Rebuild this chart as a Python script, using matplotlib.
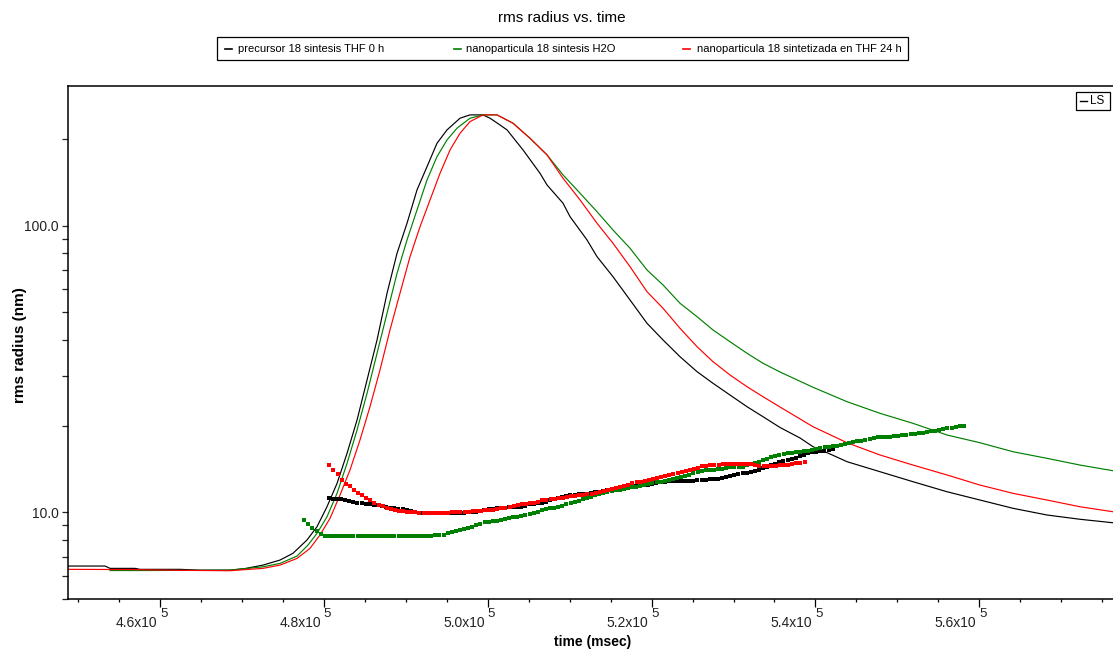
import numpy as np
import matplotlib
matplotlib.use("Agg")
import matplotlib.pyplot as plt
from matplotlib.ticker import FixedLocator, FixedFormatter, NullFormatter, MultipleLocator
from matplotlib.transforms import offset_copy
from matplotlib.patches import Rectangle
from matplotlib.lines import Line2D

plt.rcParams['font.family'] = ['Liberation Sans', 'DejaVu Sans']

# ---------------- data ----------------
series_names = ["precursor 18 sintesis THF 0 h",
                "nanoparticula 18 sintesis H2O",
                "nanoparticula 18 sintetizada en THF 24 h"]
series_colors = ["#000000", "#008000", "#ff0000"]

# LS trace (time in msec, rms radius in nm)
black_line_t = [448770, 453290, 453900, 456950, 457560, 462440, 464880, 468540, 470380, 472570,
                474650, 476230, 477940, 479160, 480380, 481610, 482830, 484050, 485270, 486490,
                487710, 488930, 490150, 491370, 492590, 493810, 495030, 496620, 497840, 499430,
                500280, 501130, 502360, 504310, 506380, 507240, 509190, 510050, 512120, 513340,
                515290, 517370, 519440, 521400, 523470, 525550, 527500, 529570, 531650, 533600,
                535680, 538120, 539710, 541780, 543860, 547880, 551910, 556060, 560090, 564120,
                568270, 572300, 576320]
black_line_r = [6.49, 6.49, 6.37, 6.37, 6.32, 6.32, 6.28, 6.28, 6.36, 6.54,
                6.81, 7.19, 8.00, 8.90, 10.45, 12.61, 16.06, 20.98, 28.94, 39.92,
                58.10, 80.12, 101.98, 133.3, 160.7, 194.0, 215.9, 237.2, 243.6, 243.6,
                237.2, 228.4, 215.9, 183.8, 152.4, 138.7, 119.8, 107.5, 89.17, 77.97,
                66.38, 55.05, 45.65, 39.92, 34.90, 30.94, 28.18, 25.65, 23.35, 21.55,
                19.76, 18.16, 16.93, 15.97, 15.01, 13.85, 12.78, 11.79, 11.03, 10.32,
                9.78, 9.45, 9.19]

green_line_t = [453900, 457560, 464880, 468540, 472570, 474650, 476720, 478060, 479160, 480380,
                481610, 482830, 484050, 485270, 486490, 487710, 488930, 490150, 491370, 492590,
                493810, 495030, 496250, 497840, 499430, 501130, 503090, 505160, 507240, 509190,
                511270, 513340, 515290, 517370, 519440, 521400, 523470, 525550, 527500, 529570,
                531650, 533600, 535680, 539710, 543860, 547880, 551910, 556060, 560090, 564120,
                568270, 572300, 576320]
green_line_r = [6.26, 6.26, 6.27, 6.28, 6.45, 6.63, 7.03, 7.68, 8.44, 9.64,
                11.64, 14.82, 19.36, 26.00, 35.87, 49.47, 68.23, 89.17, 113.5, 144.4,
                174.2, 199.2, 218.9, 237.2, 243.6, 243.6, 227.8, 201.9, 176.6, 150.4,
                129.8, 111.9, 96.63, 83.42, 70.06, 62.11, 53.61, 48.14, 43.25, 39.37,
                35.87, 33.10, 30.86, 27.29, 24.31, 22.14, 20.43, 18.60, 17.48, 16.26,
                15.42, 14.61, 13.96]

red_line_t = [448770, 456340, 462440, 468540, 472570, 474650, 476720, 478310, 479530, 480750,
              481970, 483190, 484410, 485630, 486850, 488070, 489290, 490520, 491740, 492960,
              494180, 495400, 496620, 497840, 499430, 501130, 503090, 505160, 507240, 509190,
              511270, 513340, 515290, 517370, 519440, 521400, 523470, 525550, 527500, 529570,
              531650, 533600, 535680, 539710, 543860, 547880, 551910, 556060, 560090, 564120,
              568270, 572300, 576320]
red_line_r = [6.32, 6.31, 6.27, 6.25, 6.37, 6.54, 6.90, 7.48, 8.33, 9.52,
              11.48, 14.04, 17.87, 23.35, 31.36, 43.25, 58.10, 77.97, 99.23, 123.0,
              152.4, 183.8, 210.2, 230.8, 243.6, 243.6, 227.8, 201.9, 176.6, 146.4,
              123.0, 101.98, 86.84, 71.94, 58.85, 51.50, 43.85, 37.82, 33.53, 30.13,
              27.42, 25.31, 23.29, 19.88, 17.48, 15.84, 14.61, 13.49, 12.44, 11.64,
              11.03, 10.45, 10.04]

# rms radius slices, sampled every 500 msec from each start time
slice_interval = 500
black_slice_start = 480600
red_slice_start = 480670
green_slice_start = 477610

black_slice_r = [11.18, 11.15, 11.12, 11.08, 11.03, 10.95, 10.85, 10.80, 10.75, 10.72,
                 10.68, 10.63, 10.57, 10.51, 10.44, 10.38, 10.33, 10.28, 10.24, 10.16,
                 10.08, 10.01, 9.95, 9.91, 9.91, 9.91, 9.91, 9.91, 9.91, 9.91,
                 9.92, 9.93, 9.95, 9.97, 9.99, 10.01, 10.04, 10.12, 10.20, 10.25,
                 10.28, 10.31, 10.33, 10.36, 10.40, 10.41, 10.43, 10.45, 10.55, 10.68,
                 10.70, 10.73, 10.80, 10.90, 11.00, 11.10, 11.20, 11.30, 11.38, 11.45,
                 11.50, 11.55, 11.58, 11.62, 11.67, 11.72, 11.76, 11.84, 11.92, 12.00,
                 12.08, 12.14, 12.19, 12.24, 12.29, 12.33, 12.37, 12.42, 12.47, 12.56,
                 12.64, 12.72, 12.78, 12.81, 12.83, 12.84, 12.86, 12.88, 12.89, 12.90,
                 12.91, 12.93, 12.97, 13.01, 13.05, 13.09, 13.16, 13.26, 13.36, 13.47,
                 13.58, 13.66, 13.74, 13.81, 13.89, 14.05, 14.25, 14.42, 14.60, 14.77,
                 14.94, 15.08, 15.21, 15.35, 15.48, 15.68, 15.90, 16.11, 16.25, 16.29,
                 16.33, 16.40, 16.50, 16.60]

green_slice_r = [9.39, 9.08, 8.81, 8.63, 8.38,
                 8.26, 8.24, 8.24, 8.23, 8.24, 8.24, 8.23, 8.24, 8.24, 8.26,
                 8.27, 8.26, 8.24, 8.24, 8.23, 8.24, 8.24, 8.24, 8.24, 8.23,
                 8.24, 8.25, 8.26, 8.27, 8.27, 8.27, 8.28,
                 8.30, 8.33, 8.36, 8.43, 8.53, 8.60, 8.66, 8.74, 8.82, 8.91,
                 8.99, 9.10, 9.21, 9.25, 9.29, 9.34, 9.42, 9.48, 9.54, 9.60,
                 9.65, 9.69, 9.76, 9.85, 9.93, 9.99, 10.15, 10.24, 10.32, 10.38,
                 10.45, 10.55, 10.65, 10.76, 10.86, 10.97, 11.09, 11.21, 11.33, 11.45,
                 11.55, 11.64, 11.73, 11.83, 11.91, 11.99, 12.06, 12.13, 12.20, 12.27,
                 12.35, 12.43, 12.51, 12.61, 12.71, 12.80, 12.89, 12.97, 13.06, 13.14,
                 13.27, 13.41, 13.54, 13.66, 13.79, 13.92, 14.00, 14.05, 14.09, 14.14,
                 14.21, 14.28, 14.36, 14.38, 14.40, 14.42, 14.56, 14.70, 14.85, 15.02,
                 15.18, 15.36, 15.56, 15.70, 15.83, 15.95, 16.05, 16.12, 16.20, 16.26,
                 16.31, 16.37, 16.46, 16.58, 16.71, 16.83, 16.92, 16.99, 17.04, 17.16,
                 17.30, 17.46, 17.57, 17.67, 17.78, 17.90, 18.01, 18.17, 18.30, 18.32,
                 18.34, 18.36, 18.45, 18.52, 18.59, 18.63, 18.70, 18.74, 18.84, 18.96,
                 19.07, 19.17, 19.27, 19.39, 19.53, 19.62, 19.72, 19.84, 19.93, 20.00]

red_slice_r = [14.61, 14.04, 13.55, 13.00, 12.58, 12.33, 11.98, 11.70, 11.50, 11.23,
               11.04, 10.76, 10.62, 10.48, 10.38, 10.30, 10.20, 10.10, 10.08, 10.04,
               10.01, 9.99, 9.97, 9.96, 9.96, 9.96, 9.96, 9.96, 9.96, 9.96,
               9.98, 10.00, 10.02, 10.04, 10.05, 10.07, 10.09, 10.12, 10.15, 10.18,
               10.22, 10.26, 10.31, 10.36, 10.40, 10.48, 10.57, 10.66, 10.72, 10.77,
               10.81, 10.86, 11.01, 11.06, 11.10, 11.13, 11.17, 11.24, 11.30, 11.35,
               11.40, 11.45, 11.48, 11.55, 11.62, 11.68, 11.75, 11.85, 11.96, 12.06,
               12.16, 12.27, 12.37, 12.49, 12.60, 12.70, 12.80, 12.90, 12.99, 13.06,
               13.13, 13.23, 13.34, 13.46, 13.58, 13.70, 13.80, 13.90, 14.02, 14.14,
               14.27, 14.45, 14.55, 14.58, 14.62, 14.66, 14.72, 14.72, 14.73, 14.73,
               14.72, 14.71, 14.70, 14.68, 14.60, 14.52, 14.50, 14.51, 14.52, 14.53,
               14.57, 14.62, 14.66, 14.72, 14.80, 14.87, 14.93]

x_major_ticks = [460000, 480000, 500000, 520000, 540000, 560000]
x_tick_mantissa = ["4.6x10", "4.8x10", "5.0x10", "5.2x10", "5.4x10", "5.6x10"]
x_tick_exponent = "5"
y_major_ticks = [10, 100]
y_major_labels = ["10.0", "100.0"]
y_minor_ticks = [5, 6, 7, 8, 9, 20, 30, 40, 50, 60, 70, 80, 90, 200]

# ---------------- figure ----------------
W, H = 1113, 656
fig = plt.figure(figsize=(W / 100, H / 100), dpi=100)
ax = fig.add_axes([68 / W, 57 / H, 1 - 68 / W, 513.3 / H])

line_sets = [(black_line_t, black_line_r), (green_line_t, green_line_r), (red_line_t, red_line_r)]
for (t, r), c in zip(line_sets, series_colors):
    ax.plot(t, r, color=c, lw=0.85, solid_joinstyle='round', zorder=2)

slice_sets = [(black_slice_start, black_slice_r),
              (green_slice_start, green_slice_r),
              (red_slice_start, red_slice_r)]
for (t0, r), c in zip(slice_sets, series_colors):
    t = t0 + slice_interval * np.arange(len(r))
    ax.plot(t, r, ls='none', marker='s', ms=2.3, mew=0, color=c, antialiased=False, zorder=3)

ax.set_yscale('log')
ax.set_xlim(448770, 576320)
ax.set_ylim(4.98, 308)

ax.yaxis.set_major_locator(FixedLocator(y_major_ticks))
ax.yaxis.set_major_formatter(FixedFormatter(y_major_labels))
ax.yaxis.set_minor_locator(FixedLocator(y_minor_ticks))
ax.yaxis.set_minor_formatter(NullFormatter())
ax.tick_params(axis='y', which='both', length=4.2, width=0.9, direction='out',
               labelsize=10, pad=2.5, colors='#222222')

ax.xaxis.set_major_locator(FixedLocator(x_major_ticks))
ax.xaxis.set_minor_locator(MultipleLocator(5000))
ax.tick_params(axis='x', which='major', length=5.8, width=0.9, direction='out', labelbottom=False)
ax.tick_params(axis='x', which='minor', length=2.2, width=0.9, direction='out')

ax.spines['right'].set_visible(False)
for s in ('left', 'bottom', 'top'):
    ax.spines[s].set_linewidth(1.1)

# x tick labels written as mantissa with raised exponent
ax_h = 513.3
base_tr = offset_copy(ax.get_xaxis_transform(), fig=fig, x=-3, y=0, units='dots')
exp_tr = offset_copy(ax.get_xaxis_transform(), fig=fig, x=0, y=0, units='dots')
for t, m in zip(x_major_ticks, x_tick_mantissa):
    ax.text(t, -28 / ax_h, m, transform=base_tr, ha='right', va='baseline',
            fontsize=10, color='#222222')
    ax.text(t, -18 / ax_h, x_tick_exponent, transform=exp_tr, ha='left', va='baseline',
            fontsize=9.5, color='#222222')

def fx(px):
    return px / W

def fy(py):
    return 1 - py / H

fig.text(fx(562), fy(18), "rms radius vs. time", ha='center', va='center', fontsize=11)
fig.text(fx(593), fy(642), "time (msec)", ha='center', va='center', fontsize=10, fontweight='bold')
fig.text(fx(20), fy(345), "rms radius (nm)", ha='center', va='center', rotation=90,
         fontsize=11, fontweight='bold')

# series key above the plot
fig.add_artist(Rectangle((fx(217), fy(60)), fx(908) - fx(217), fy(37) - fy(60),
                         transform=fig.transFigure, fill=False, ec='black', lw=0.9))
key_dash_x = [225, 454, 683]
key_text_x = [238, 466, 697]
for dx, tx, name, c in zip(key_dash_x, key_text_x, series_names, series_colors):
    fig.add_artist(Line2D([fx(dx), fx(dx + 7)], [fy(48.5), fy(48.5)], transform=fig.transFigure,
                          color=c, lw=1.2))
    fig.text(fx(tx), fy(48.5), name, ha='left', va='center', fontsize=8)

# detector key
fig.add_artist(Rectangle((fx(1076), fy(110)), fx(1110) - fx(1076), fy(92) - fy(110),
                         transform=fig.transFigure, fill=False, ec='black', lw=0.9))
fig.add_artist(Line2D([fx(1080), fx(1087)], [fy(101), fy(101)], transform=fig.transFigure,
                      color='black', lw=1.0))
fig.text(fx(1090), fy(101), "LS", ha='left', va='center', fontsize=8.5)

fig.savefig("out.png", dpi=100)
